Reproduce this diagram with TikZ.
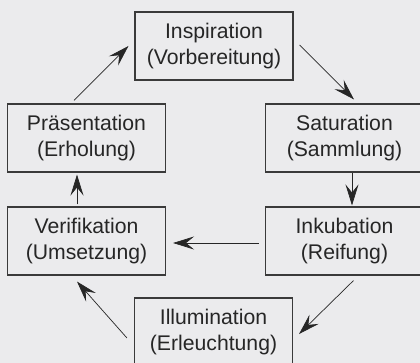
\documentclass[tikz,border=0pt]{standalone}
\usepackage{fontspec}
\setmainfont{Liberation Sans}
\usetikzlibrary{arrows.meta,calc}
\definecolor{bg}{HTML}{EBEBED}
\definecolor{frame}{HTML}{3A3A3A}
\definecolor{ink}{HTML}{262626}
\tikzset{
  stage/.style={draw=frame, line width=1.1pt, minimum width=158pt, minimum height=68pt,
    inner sep=0pt, align=center, text=ink,
    font=\fontsize{21.2}{26}\selectfont},
  link/.style={draw=ink, line width=0.7pt, -{Stealth[length=21pt,width=13pt,inset=8pt]}}
}
\begin{document}
\begin{tikzpicture}[x=1pt,y=-1pt]
\fill[bg] (0,0) rectangle (420,363);
\useasboundingbox (0,0) rectangle (420,363);
\clip (0,0) rectangle (420,363);
\node[stage] (insp) at (214,46) {Inspiration\\(Vorbereitung)};
\node[stage] (sat) at (344.5,138) {Saturation\\(Sammlung)};
\node[stage] (praes) at (86.5,138) {Präsentation\\(Erholung)};
\node[stage] (verif) at (86.5,241) {Verifikation\\(Umsetzung)};
\node[stage] (inku) at (344.5,241) {Inkubation\\(Reifung)};
\node[stage] (illu) at (213.5,332) {Illumination\\(Erleuchtung)};
\draw[link] ($(insp.east)+(6,-1)$) -- ($(sat.north)+(9.5,-4)$);
\draw[link] ($(sat.south)+(7.5,0)$) -- ($(inku.north)+(7.5,-1)$);
\draw[link] ($(inku.west)+(-6,2)$) -- ($(verif.east)+(7,2)$);
\draw[link] ($(inku.south)+(9,5)$) -- ($(illu.east)+(6,2)$);
\draw[link] ($(illu.west)+(-7,6)$) -- ($(verif.south)+(-9.5,6)$);
\draw[link] ($(verif.north)+(-9.5,-2)$) -- ($(praes.south)+(-9.5,2)$);
\draw[link] ($(praes.north)+(-12.5,-3)$) -- ($(insp.west)+(-6,0)$);
\end{tikzpicture}
\end{document}
